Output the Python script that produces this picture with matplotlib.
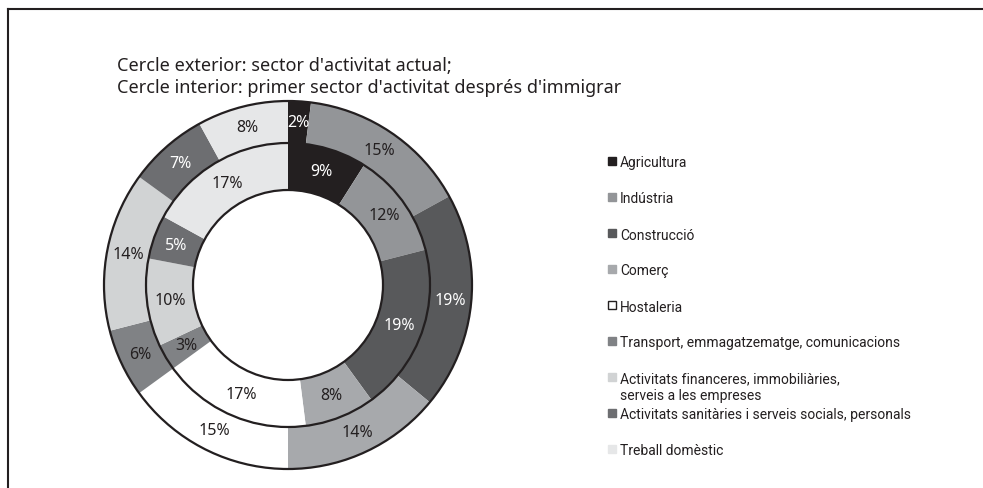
import matplotlib
matplotlib.use("Agg")
import matplotlib.pyplot as plt
from matplotlib.lines import Line2D
from matplotlib.patches import Circle

plt.rcParams["font.family"] = ["Noto Sans", "DejaVu Sans"]

sectors = [
    "Agricultura",
    "Indústria",
    "Construcció",
    "Comerç",
    "Hostaleria",
    "Transport, emmagatzematge, comunicacions",
    "Activitats financeres, immobiliàries,\nserveis a les empreses",
    "Activitats sanitàries i serveis socials, personals",
    "Treball domèstic",
]
current_pct = [2, 15, 19, 14, 15, 6, 14, 7, 8]      # cercle exterior
first_pct = [9, 12, 19, 8, 17, 3, 10, 5, 17]        # cercle interior

colors = ["#231f20", "#939598", "#58595b", "#a7a9ac", "#ffffff",
          "#808285", "#d1d3d4", "#6d6e71", "#e6e7e8"]
text_colors = ["white", "#231f20", "white", "#231f20", "#231f20",
               "#231f20", "#231f20", "white", "#231f20"]
ink = "#231f20"

fig = plt.figure(figsize=(9.83, 4.89), dpi=100)
W, H = 983.0, 489.0


def fx(px):
    return px / W


def fy(py):
    return 1.0 - py / H


# donut
cx, cy, R = 288.0, 286.0, 184.0
lim = 1.03
half = R * lim
ax = fig.add_axes([fx(cx - half), fy(cy + half), 2 * half / W, 2 * half / H])

r_mid = 142.0 / R
r_hole = 95.0 / R
outer_w = 1.0 - r_mid
inner_w = r_mid - r_hole

_, outer_txt = ax.pie(current_pct, radius=1.0, colors=colors, startangle=90,
                      counterclock=False, wedgeprops=dict(width=outer_w, linewidth=0),
                      autopct=lambda p: f"{p:.0f}%", pctdistance=1.0 - outer_w / 2)[0:3:2]
_, inner_txt = ax.pie(first_pct, radius=r_mid, colors=colors, startangle=90,
                      counterclock=False, wedgeprops=dict(width=inner_w, linewidth=0),
                      autopct=lambda p: f"{p:.0f}%",
                      pctdistance=1.0 - (inner_w / r_mid) / 2)[0:3:2]
for texts in (outer_txt, inner_txt):
    for t, c in zip(texts, text_colors):
        t.set_color(c)
        t.set_fontsize(11.5)

for r in (1.0, r_mid, r_hole):
    ax.add_patch(Circle((0, 0), r, fill=False, edgecolor=ink, linewidth=1.6))

ax.set_xlim(-lim, lim)
ax.set_ylim(-lim, lim)
ax.set_aspect("equal")
ax.axis("off")

# títol
fig.text(fx(117), fy(77), "Cercle exterior: sector d'activitat actual;\n"
         "Cercle interior: primer sector d'activitat després d'immigrar",
         fontsize=13, color=ink, va="center", ha="left", linespacing=1.3)

# llegenda
row0, step = 162.0, 36.0
for i, (label, c) in enumerate(zip(sectors, colors)):
    y = row0 + i * step
    fig.add_artist(Line2D([fx(612)], [fy(y)], marker="s", linestyle="none", markersize=5.8,
                          markerfacecolor=c, markeredgecolor=ink if c == "#ffffff" else c,
                          markeredgewidth=1.0))
    fig.text(fx(620), fy(y - 5.5), label, fontsize=10, color=ink, ha="left",
             va="top", linespacing=1.2, family=["Roboto", "DejaVu Sans"])

# marc
fig.add_artist(Line2D([fx(8), 1.0], [fy(10), fy(10)], color=ink, linewidth=1.5))
fig.add_artist(Line2D([fx(8), fx(8)], [0, fy(10)], color=ink, linewidth=1.5))

fig.savefig("out.png", dpi=100)
